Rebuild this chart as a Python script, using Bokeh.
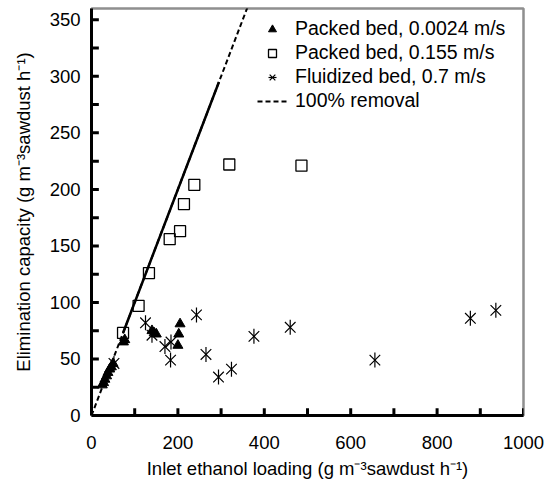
import math
from bokeh.plotting import figure
from bokeh.models import Range1d, SingleIntervalTicker, Legend, LegendItem
from bokeh.embed import file_html
from bokeh.resources import INLINE

# Packed bed, 0.0024 m/s
pb1_x = [25, 28, 31, 35, 38, 42, 46, 50, 74, 77, 140, 145, 150, 200, 202, 205]
pb1_y = [27, 29, 32, 35, 38, 41, 43, 46, 65, 67, 75, 73, 72, 62, 72, 81]
# Packed bed, 0.155 m/s
pb2_x = [73, 109, 133, 181, 205, 214, 238, 319, 486]
pb2_y = [73, 97, 126, 156, 163, 187, 204, 222, 221]
# Fluidized bed, 0.7 m/s
fb_x = [52, 125, 140, 170, 184, 183, 243, 265, 294, 324, 376, 460, 656, 877, 936]
fb_y = [46, 82, 71, 61, 65, 49, 89, 54, 34, 41, 70, 78, 49, 86, 93]
# 100% removal line (y = x)
rem_x = [0, 370]
rem_y = [0, 370]
solid_x = [73, 295]
solid_y = [73, 295]
# tick positions (ticks point inward)
x_ticks = [100, 200, 300, 400, 500, 600, 700, 800, 900, 1000]
y_ticks = [25, 50, 75, 100, 125, 150, 175, 200, 225, 250, 275, 300, 325, 350]

FONT = "Liberation Sans"
FS_AX = "18.5px"
FS_LEG = "19.5px"

p = figure(width=546, height=482, output_backend="svg", toolbar_location=None,
           x_range=Range1d(0, 1000), y_range=Range1d(0, 360),
           min_border_left=91, min_border_right=23, min_border_top=8, min_border_bottom=67)

p.grid.visible = False
p.outline_line_color = "#8f8f8f"
p.outline_line_width = 2.5
p.background_fill_color = "white"
p.border_fill_color = "white"

p.xaxis.ticker = SingleIntervalTicker(interval=200, num_minor_ticks=0)
p.yaxis.ticker = SingleIntervalTicker(interval=50, num_minor_ticks=0)

for ax in (p.xaxis, p.yaxis):
    ax.axis_line_width = 3
    ax.axis_line_color = "black"
    ax.major_tick_in = 0
    ax.major_tick_out = 0
    ax.minor_tick_in = 0
    ax.minor_tick_out = 0
    ax.major_label_text_font = FONT
    ax.major_label_text_font_size = FS_AX
    ax.major_label_text_color = "black"
    ax.axis_label_text_font = FONT
    ax.axis_label_text_font_size = FS_AX
    ax.axis_label_text_font_style = "normal"
    ax.axis_label_text_color = "black"

p.xaxis.axis_label = "Inlet ethanol loading (g m\u207b\u00b3sawdust h\u207b\u00b9)"
p.yaxis.axis_label = "Elimination capacity (g m\u207b\u00b3sawdust h\u207b\u00b9)"
p.xaxis.major_label_standoff = 20
p.xaxis.axis_label_standoff = 6
p.yaxis.major_label_standoff = 11
p.yaxis.axis_label_standoff = 13

# inward tick marks, drawn as short segments from the axes into the frame
p.segment(x0=x_ticks, y0=[0] * len(x_ticks), x1=x_ticks, y1=[6.5] * len(x_ticks),
          line_color="black", line_width=3)
p.segment(x0=[0] * len(y_ticks), y0=y_ticks, x1=[17] * len(y_ticks), y1=y_ticks,
          line_color="black", line_width=3)

r_rem = p.line(rem_x, rem_y, line_color="black", line_width=2, line_dash="5 3")
p.line(solid_x, solid_y, line_color="black", line_width=2.5)

r_pb1 = p.scatter(pb1_x, pb1_y, marker="triangle", size=10, fill_color="black",
                  line_color="black", line_width=1)
r_pb2 = p.scatter(pb2_x, pb2_y, marker="square", size=11, fill_color=None,
                  line_color="black", line_width=1.3)
r_fb1 = p.scatter(fb_x, fb_y, marker="x", size=15, line_color="black", line_width=1.2)
r_fb2 = p.scatter(fb_x, fb_y, marker="dash", size=15, angle=math.pi / 2,
                  line_color="black", line_width=1.2)

legend = Legend(items=[
    LegendItem(label="Packed bed, 0.0024 m/s", renderers=[r_pb1]),
    LegendItem(label="Packed bed, 0.155 m/s", renderers=[r_pb2]),
    LegendItem(label="Fluidized bed, 0.7 m/s", renderers=[r_fb1, r_fb2]),
    LegendItem(label="100% removal", renderers=[r_rem]),
], location=(166, 303))
legend.border_line_color = None
legend.background_fill_alpha = 0
legend.padding = 0
legend.spacing = 1
legend.glyph_width = 30
legend.glyph_height = 20
legend.label_standoff = 8
legend.label_height = 22
legend.label_text_font = FONT
legend.label_text_font_size = FS_LEG
legend.label_text_color = "black"
p.add_layout(legend)

open("out.html", "w").write(file_html(p, INLINE))
